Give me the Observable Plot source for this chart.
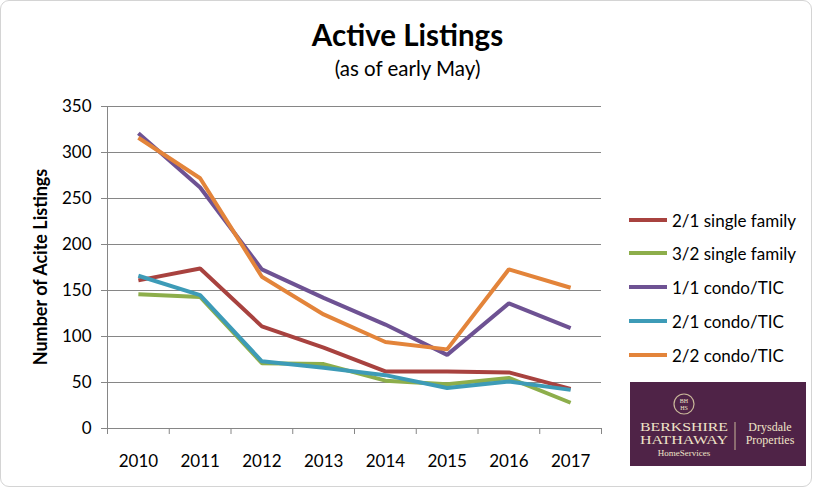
<!DOCTYPE html>
<html><head><meta charset="utf-8">
<script src="https://cdn.jsdelivr.net/npm/d3@7"></script>
<script src="https://cdn.jsdelivr.net/npm/@observablehq/plot@0.6"></script>
<style>
body{margin:0;background:#fff;font-family:Lato,"Open Sans",sans-serif;}
#wrap{position:relative;width:815px;height:490px;overflow:hidden;}
#border{position:absolute;left:0;top:0;width:812px;height:487px;border:1.5px solid #d4d4d4;border-radius:9px;box-sizing:border-box;}
.abs{position:absolute;white-space:nowrap;}
#title{left:0;width:815px;top:17px;text-align:center;font-size:29.5px;font-weight:bold;color:#000;}
#sub{left:0;width:815px;top:56px;text-align:center;font-size:20.5px;color:#000;}
#ylab{left:40px;top:267px;transform:translate(-50%,-50%) rotate(-90deg);font-size:18px;font-weight:bold;}
.leg{position:absolute;left:629px;font-size:17px;display:flex;align-items:center;}
.leg span.sw{display:inline-block;width:38px;height:4px;margin-right:5px;}
#logo{position:absolute;left:630px;top:382px;width:176px;height:84px;background:#4f2347;color:#efe3c8;font-family:"Liberation Serif","DejaVu Serif",serif;}
</style></head>
<body>
<div id="wrap">
<div id="border"></div>
<div id="chart" class="abs" style="left:0;top:0"></div>
<div id="title" class="abs">Active Listings</div>
<div id="sub" class="abs">(as of early May)</div>
<div id="ylab" class="abs">Number of Acite Listings</div>
<div id="legend"></div>
<div id="logo">
  <svg width="176" height="84" style="position:absolute;left:0;top:0">
    <circle cx="54" cy="22" r="10" fill="none" stroke="#c9b79a" stroke-width="1.2"/>
    <text x="54" y="20.5" text-anchor="middle" font-size="6" fill="#efe3c8" font-family="Liberation Serif">BH</text>
    <text x="54" y="28" text-anchor="middle" font-size="6" fill="#efe3c8" font-family="Liberation Serif">HS</text>
    <text x="54" y="49" text-anchor="middle" font-size="12" fill="#efe3c8" font-family="Liberation Serif" textLength="88" lengthAdjust="spacingAndGlyphs">BERKSHIRE</text>
    <text x="54" y="61.5" text-anchor="middle" font-size="12" fill="#efe3c8" font-family="Liberation Serif" textLength="88" lengthAdjust="spacingAndGlyphs">HATHAWAY</text>
    <text x="54" y="74" text-anchor="middle" font-size="9" fill="#efe3c8" font-family="Liberation Serif">HomeServices</text>
    <line x1="105" y1="40" x2="105" y2="68" stroke="#c9b79a" stroke-width="1"/>
    <text x="140" y="49" text-anchor="middle" font-size="12" fill="#efe3c8" font-family="Liberation Serif">Drysdale</text>
    <text x="140" y="62" text-anchor="middle" font-size="12" fill="#efe3c8" font-family="Liberation Serif">Properties</text>
  </svg>
</div>
</div>
<script>
const years = [2010, 2011, 2012, 2013, 2014, 2015, 2016, 2017];
const seriesNames = ["2/1 single family", "3/2 single family", "1/1 condo/TIC", "2/1 condo/TIC", "2/2 condo/TIC"];
const singleFamily21 = [161, 174, 111, 88, 62, 62, 61, 43];
const singleFamily32 = [146, 143, 71, 70, 52, 48, 55, 28];
const condo11 = [321, 262, 173, 142, 113, 80, 136, 109];
const condo21 = [166, 145, 73, 66, 58, 44, 51, 42];
const condo22 = [316, 272, 165, 124, 94, 86, 173, 153];
const yTicks = [0, 50, 100, 150, 200, 250, 300, 350];
const colors = ["#A8423F", "#8DAE4B", "#6E5293", "#3D9BB7", "#E3843A"];

const allSeries = [singleFamily21, singleFamily32, condo11, condo21, condo22];
const data = seriesNames.flatMap((name, i) => years.map((yr, j) => ({year: yr, value: allSeries[i][j], series: name})));
const boundaries = years.map(y => y - 0.5).concat([years[years.length - 1] + 0.5]);

const chart = Plot.plot({
  width: 815, height: 490,
  marginLeft: 107, marginRight: 214, marginTop: 106, marginBottom: 62,
  style: {fontFamily: "Lato, 'Open Sans', sans-serif", background: "transparent"},
  x: {type: "linear", domain: [boundaries[0], boundaries[boundaries.length - 1]], axis: null},
  y: {domain: [0, 350], axis: null},
  color: {domain: seriesNames, range: colors},
  marks: [
    Plot.gridY(yTicks, {stroke: "#868686", strokeOpacity: 1, strokeWidth: 1}),
    Plot.axisY(yTicks, {tickSize: 6, tickPadding: 10, fontSize: 17, stroke: "#868686", fill: "#000", strokeOpacity: 1, label: null}),
    Plot.frame({anchor: "left", stroke: "#868686", strokeWidth: 1}),
    Plot.frame({anchor: "bottom", stroke: "#868686", strokeWidth: 1}),
    Plot.axisX(boundaries, {tickSize: 6, tickFormat: () => "", stroke: "#868686", strokeOpacity: 1, label: null}),
    Plot.axisX(years, {tickSize: 0, tickPadding: 26, fontSize: 17, fill: "#000", tickFormat: d => String(d), label: null}),
    Plot.line(data, {x: "year", y: "value", z: "series", stroke: "series", strokeWidth: 4, strokeLinejoin: "miter", strokeLinecap: "butt"})
  ]
});
document.getElementById("chart").appendChild(chart);

const leg = document.getElementById("legend");
const legTops = [220, 253, 287, 321, 355];
seriesNames.forEach((n, i) => {
  const d = document.createElement("div");
  d.className = "leg";
  d.style.top = (legTops[i] - 12) + "px";
  d.style.height = "24px";
  d.innerHTML = `<span class="sw" style="background:${colors[i]}"></span><span>${n}</span>`;
  leg.appendChild(d);
});
</script>
</body></html>
